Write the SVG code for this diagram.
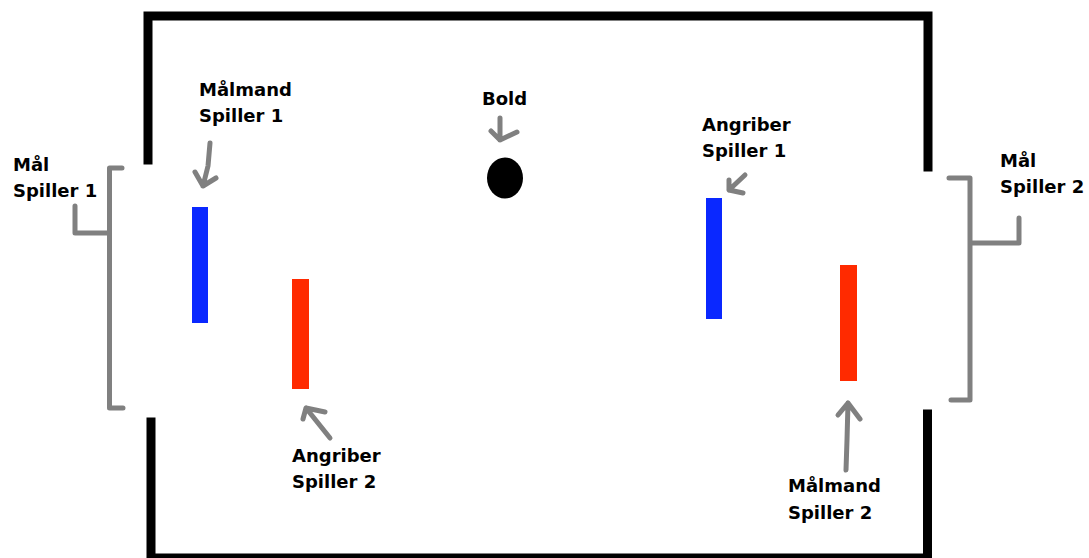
<svg xmlns="http://www.w3.org/2000/svg" width="1089" height="558" viewBox="0 0 1089 558">
<style>
.wall{fill:none;stroke:#000;stroke-width:9;stroke-linejoin:miter;stroke-linecap:square}
.g{fill:none;stroke:#808080;stroke-width:5;stroke-linejoin:round;stroke-linecap:round}
text{font-family:"DejaVu Sans",Verdana,sans-serif;font-weight:bold;font-size:18px;fill:#000}
</style>
<rect width="1089" height="558" fill="#fff"/>
<g id="field">
<path class="wall" d="M148,160 V16 H928 V167"/>
<path class="wall" d="M151,422 V558 H927.5 V414"/>
</g>
<g id="ball"><ellipse cx="505" cy="178" rx="18" ry="20.5" fill="#000"/></g>
<g id="maalmand1"><rect x="192" y="207" width="16" height="116" fill="#0a28ff"/></g>
<g id="angriber2"><rect x="292" y="279" width="17" height="110" fill="#ff2a00"/></g>
<g id="angriber1"><rect x="706" y="198" width="16" height="121" fill="#0a28ff"/></g>
<g id="maalmand2"><rect x="840" y="265" width="17" height="116" fill="#ff2a00"/></g>
<g id="connectors">
<path class="g" d="M122,168 H109.5 V408 H123 M109.5,233 H75 V206"/>
<path class="g" d="M949,178 H970 V400 H951 M970,243 H1019 V218"/>
<path class="g" d="M210,143 L208,166 L203,186 M195,172 L203,186 L216,178"/>
<path class="g" d="M500,118 V140 M491,131 L500,140 L517,132"/>
<path class="g" d="M745,175 L729,190 M729,180 V190 L743,193"/>
<path class="g" d="M330,438 L306,408 M325,412 L306,408 L303,419"/>
<path class="g" d="M846,470 L847,440 L848,403 M838,415 L848,403 L860,419"/>
</g>
<g id="lbl-maal1"><text x="13" y="171">Mål</text><text x="13" y="197">Spiller 1</text></g>
<g id="lbl-maalmand1"><text x="199" y="96">Målmand</text><text x="199" y="122">Spiller 1</text></g>
<g id="lbl-bold"><text x="482" y="105">Bold</text></g>
<g id="lbl-angriber1"><text x="702" y="131">Angriber</text><text x="702" y="157">Spiller 1</text></g>
<g id="lbl-maal2"><text x="1000" y="167">Mål</text><text x="1000" y="193">Spiller 2</text></g>
<g id="lbl-angriber2"><text x="292" y="462">Angriber</text><text x="292" y="488">Spiller 2</text></g>
<g id="lbl-maalmand2"><text x="788" y="492">Målmand</text><text x="788" y="519">Spiller 2</text></g>
</svg>
